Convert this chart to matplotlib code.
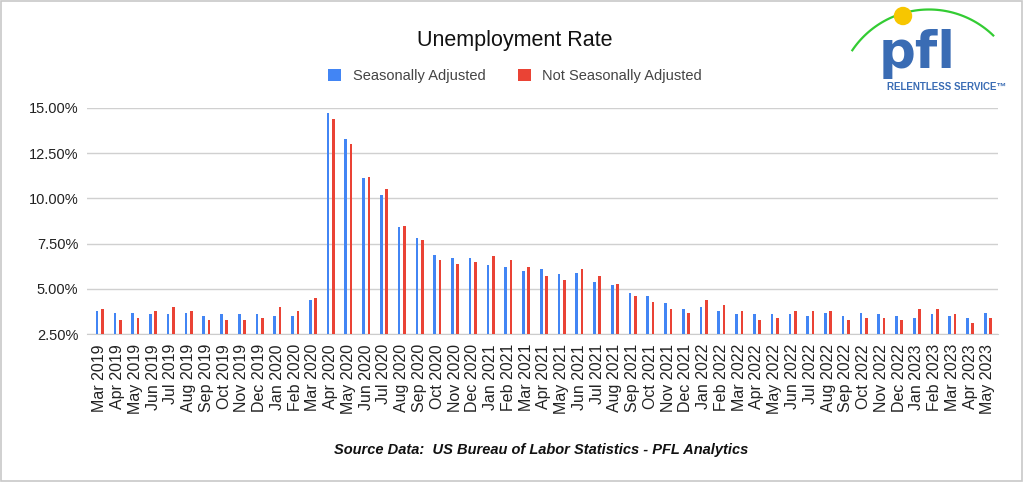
import numpy as np
import matplotlib
matplotlib.use("Agg")
import matplotlib.pyplot as plt
from matplotlib.patches import Rectangle, Ellipse
from matplotlib.lines import Line2D
from matplotlib.ticker import FuncFormatter

plt.rcParams['font.family'] = ['Liberation Sans', 'DejaVu Sans']

# month labels, Mar 2019 .. May 2023
months = ['Mar 2019', 'Apr 2019', 'May 2019', 'Jun 2019', 'Jul 2019', 'Aug 2019',
          'Sep 2019', 'Oct 2019', 'Nov 2019', 'Dec 2019', 'Jan 2020', 'Feb 2020',
          'Mar 2020', 'Apr 2020', 'May 2020', 'Jun 2020', 'Jul 2020', 'Aug 2020',
          'Sep 2020', 'Oct 2020', 'Nov 2020', 'Dec 2020', 'Jan 2021', 'Feb 2021',
          'Mar 2021', 'Apr 2021', 'May 2021', 'Jun 2021', 'Jul 2021', 'Aug 2021',
          'Sep 2021', 'Oct 2021', 'Nov 2021', 'Dec 2021', 'Jan 2022', 'Feb 2022',
          'Mar 2022', 'Apr 2022', 'May 2022', 'Jun 2022', 'Jul 2022', 'Aug 2022',
          'Sep 2022', 'Oct 2022', 'Nov 2022', 'Dec 2022', 'Jan 2023', 'Feb 2023',
          'Mar 2023', 'Apr 2023', 'May 2023']

seasonally_adj = [3.8, 3.7, 3.7, 3.6, 3.6, 3.7, 3.5, 3.6, 3.6, 3.6, 3.5, 3.5,
                  4.4, 14.7, 13.3, 11.1, 10.2, 8.4, 7.8, 6.9, 6.7, 6.7, 6.3, 6.2,
                  6.0, 6.1, 5.8, 5.9, 5.4, 5.2, 4.8, 4.6, 4.2, 3.9, 4.0, 3.8,
                  3.6, 3.6, 3.6, 3.6, 3.5, 3.7, 3.5, 3.7, 3.6, 3.5, 3.4, 3.6,
                  3.5, 3.4, 3.7]

not_seasonally_adj = [3.9, 3.3, 3.4, 3.8, 4.0, 3.8, 3.3, 3.3, 3.3, 3.4, 4.0, 3.8,
                      4.5, 14.4, 13.0, 11.2, 10.5, 8.5, 7.7, 6.6, 6.4, 6.5, 6.8, 6.6,
                      6.2, 5.7, 5.5, 6.1, 5.7, 5.3, 4.6, 4.3, 3.9, 3.7, 4.4, 4.1,
                      3.8, 3.3, 3.4, 3.8, 3.8, 3.8, 3.3, 3.4, 3.4, 3.3, 3.9, 3.9,
                      3.6, 3.1, 3.4]

y_ticks = [2.5, 5.0, 7.5, 10.0, 12.5, 15.0]

BLUE = '#4285F4'
RED = '#EA4335'
LOGO_BLUE = '#3a6cb4'
base = 2.5

fig = plt.figure(figsize=(10.24, 4.82), dpi=100)
ax = fig.add_axes([0.0853, 0.3064, 0.889, 0.4702])

x = np.arange(len(months))
sa = np.array(seasonally_adj) - base
nsa = np.array(not_seasonally_adj) - base
ax.bar(x - 0.15, sa, width=0.15, bottom=base, color=BLUE, linewidth=0,
       label='Seasonally Adjusted', zorder=3)
ax.bar(x + 0.15, nsa, width=0.15, bottom=base, color=RED, linewidth=0,
       label='Not Seasonally Adjusted', zorder=3)

ax.set_ylim(2.5, 15.0)
ax.set_xlim(-0.7, len(months) - 0.45)
ax.set_yticks(y_ticks)
ax.yaxis.set_major_formatter(FuncFormatter(lambda v, p: f'{v:.2f}%'))
ax.set_xticks(x)
ax.set_xticklabels(months, rotation=90, fontsize=11.5, color='#222222')
ax.tick_params(axis='y', labelsize=10.5, colors='#222222', length=0, pad=6.5)
ax.tick_params(axis='x', length=0, pad=7)
ax.grid(axis='y', color='#d0d0d0', linewidth=1, zorder=0)
for s in ['top', 'right', 'left']:
    ax.spines[s].set_visible(False)
ax.spines['bottom'].set_color('#cccccc')

fig.text(0.503, 0.915, 'Unemployment Rate', ha='center', va='center', fontsize=15.5, color='#111111')
leg = fig.legend(loc='center', bbox_to_anchor=(0.503, 0.843), ncol=2, frameon=False,
                 fontsize=10.5, handlelength=0.9, handleheight=0.9, columnspacing=2.2,
                 handletextpad=0.8)
for t in leg.get_texts():
    t.set_color('#444444')

fig.text(0.528, 0.066, 'Source Data:  US Bureau of Labor Statistics - PFL Analytics',
         ha='center', va='center', fontsize=10.5, fontweight='bold', style='italic', color='#111111')

# logo in the top right corner (pixel positions converted to figure fraction)
W, H = 1024, 482
ang = np.radians(np.linspace(46, 146, 60))
arc_x = (929 + 92.5 * np.cos(ang)) / W
arc_y = 1 - (102 - 92.5 * np.sin(ang)) / H
fig.add_artist(Line2D(arc_x, arc_y, transform=fig.transFigure, color='#33cc33', linewidth=1.6))
fig.patches.append(Ellipse((903 / W, 1 - 16 / H), 17 / W, 17 / H, transform=fig.transFigure,
                           color='#f7c600', zorder=3))
fig.text(879 / W, 1 - 68 / H, 'pfl', ha='left', va='baseline', fontsize=37,
         fontweight='bold', color=LOGO_BLUE, family=['DejaVu Sans'], zorder=2)
fig.text(947 / W, 1 - 86.5 / H, 'RELENTLESS SERVICE\u2122', ha='center', va='center',
         fontsize=7.0, fontweight='bold', color=LOGO_BLUE)

# outer border
fig.patches.append(Rectangle((0.001, 0.002), 0.997, 0.995, transform=fig.transFigure,
                             fill=False, edgecolor='#c8c8c8', linewidth=1.2))

fig.savefig('out.png', dpi=100)
